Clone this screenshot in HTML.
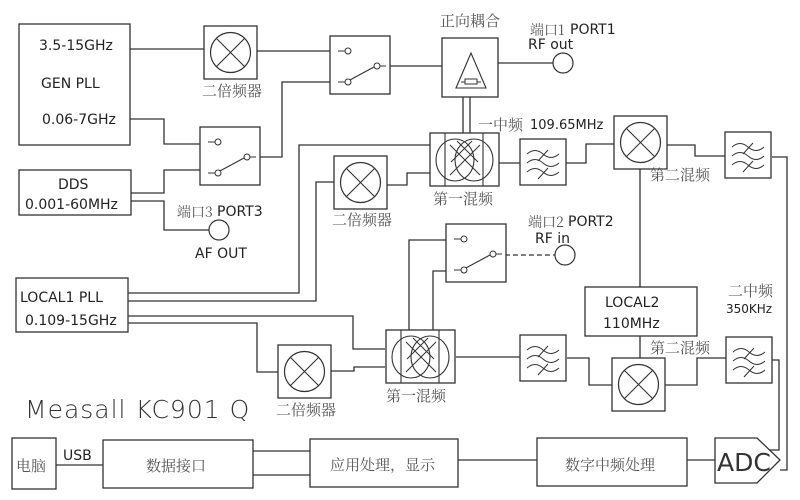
<!DOCTYPE html>
<html><head><meta charset="utf-8"><style>
html,body{margin:0;padding:0;background:#fff;}
svg{display:block;}
text{font-family:"Liberation Sans","Noto Sans CJK SC",sans-serif;fill:#222;}
.c{font-family:"Noto Serif CJK SC","Noto Sans CJK SC",serif;fill:#555;font-size:15px;}
.m{font-family:"DejaVu Sans","Liberation Sans",sans-serif;font-size:14px;fill:#222;}
</style></head><body>
<svg width="800" height="500" viewBox="0 0 800 500" xmlns="http://www.w3.org/2000/svg">
<defs>
<g id="dbl"><rect x="0" y="0" width="53" height="53" fill="#fff" stroke="#333" stroke-width="1.3"/><circle cx="26.5" cy="26.5" r="20" fill="none" stroke="#333" stroke-width="1.2"/><path d="M12.4 12.4L40.6 40.6M40.6 12.4L12.4 40.6" stroke="#333" stroke-width="1.1"/></g>
<g id="sw"><rect x="0" y="0" width="60" height="58" fill="#fff" stroke="#333" stroke-width="1.3"/><path d="M8 15H15M8 46H15M50 30H56M18 45L44 31" stroke="#333" stroke-width="1.1" fill="none"/><circle cx="18" cy="15" r="3" fill="#fff" stroke="#333"/><circle cx="18" cy="46" r="3" fill="#fff" stroke="#333"/><circle cx="47" cy="30" r="3" fill="#fff" stroke="#333"/></g>
<g id="flt"><rect x="0" y="0" width="46" height="46" fill="#fff" stroke="#333" stroke-width="1.3"/><path d="M7 15q8-7 16 0t16 0M7 24q8-7 16 0t16 0M7 33q8-7 16 0t16 0M18 22l10-11M18 40l10-11" stroke="#333" stroke-width="1" fill="none"/></g>
<g id="mix"><rect x="0" y="0" width="69" height="53" fill="#fff" stroke="#333" stroke-width="1.3"/><path d="M15 0V53M53 0V53" stroke="#333" stroke-width="1.1"/><ellipse cx="25" cy="27" rx="19" ry="21" fill="none" stroke="#333" stroke-width="1.1"/><ellipse cx="44" cy="27" rx="19" ry="21" fill="none" stroke="#333" stroke-width="1.1"/><path d="M20 12L50 42M50 12L20 42M27 8L48 29M42 8L21 29" stroke="#333" stroke-width="1" fill="none"/></g>
</defs>
<g stroke="#333" stroke-width="1.3" fill="none">
<path d="M130 49H204M257 51H330M130 119H164V144H200M131 193H164V170H200M131 201H164V230H209M260 157H282V82H330M390 66H442M498 63H553"/>
<path d="M463 97V133M470 97V133"/>
<path d="M128 293H299V145H430M128 301H316V182H334M387 185H407V173H447"/>
<path d="M128 316H353V349H385M128 323H257V372H278M331 371H354V367H385"/>
<path d="M409 330V240H446M433 330V271H446"/>
<path d="M505 255H555" stroke-dasharray="5,3"/>
<path d="M499 163H520M566 163H586V144H614M667 145H695V156H725M772 157H787V470H780"/>
<path d="M640 169V287M640 336V358"/>
<path d="M456 357H520M567 358H589V385H612M665 385H697V358H726M772 360H779V450H768"/>
<path d="M56 465H103M253 451H310M253 475H310M458 460H537M687 460H715"/>
</g>
<rect x="19" y="24" width="111" height="121" fill="#fff" stroke="#333" stroke-width="1.3"/>
<rect x="19" y="170" width="112" height="45" fill="#fff" stroke="#333" stroke-width="1.3"/>
<rect x="16" y="278" width="112" height="54" fill="#fff" stroke="#333" stroke-width="1.3"/>
<rect x="585" y="287" width="112" height="49" fill="#fff" stroke="#333" stroke-width="1.3"/>
<use href="#dbl" x="204" y="26"/>
<use href="#dbl" x="334" y="156"/>
<use href="#dbl" x="278" y="345"/>
<use href="#dbl" x="614" y="116"/>
<use href="#dbl" x="612" y="358"/>
<use href="#sw" x="330" y="36"/>
<use href="#sw" x="200" y="127"/>
<use href="#sw" x="446" y="224"/>
<use href="#flt" x="520" y="139"/>
<use href="#flt" x="725" y="132"/>
<use href="#flt" x="520" y="335"/>
<use href="#flt" x="726" y="337"/>
<use href="#mix" x="430" y="133"/>
<use href="#mix" x="386" y="330"/>
<rect x="442" y="38" width="56" height="59" fill="#fff" stroke="#333" stroke-width="1.3"/>
<path d="M471 53L456 88H486ZM461 82H481" stroke="#333" stroke-width="1.1" fill="none"/>
<rect x="465" y="79" width="12" height="5" fill="#fff" stroke="#333"/>
<circle cx="563" cy="63" r="10" fill="#fff" stroke="#333" stroke-width="1.2"/>
<circle cx="219" cy="230" r="10" fill="#fff" stroke="#333" stroke-width="1.2"/>
<circle cx="565" cy="255" r="10" fill="#fff" stroke="#333" stroke-width="1.2"/>
<rect x="12" y="438" width="44" height="51" fill="#fff" stroke="#333" stroke-width="1.3"/>
<rect x="103" y="440" width="150" height="48" fill="#fff" stroke="#333" stroke-width="1.3"/>
<rect x="310" y="439" width="148" height="48" fill="#fff" stroke="#333" stroke-width="1.3"/>
<rect x="537" y="438" width="150" height="48" fill="#fff" stroke="#333" stroke-width="1.3"/>
<path d="M715 438H757L780 460L757 483H715Z" fill="#fff" stroke="#333" stroke-width="1.3"/>
<text class="m" x="39" y="50">3.5-15GHz</text>
<text class="m" x="41" y="88">GEN  PLL</text>
<text class="m" x="42" y="124">0.06-7GHz</text>
<text class="m" x="58" y="189">DDS</text>
<text class="m" x="25" y="209">0.001-60MHz</text>
<text class="m" x="20" y="302">LOCAL1  PLL</text>
<text class="m" x="25" y="325">0.109-15GHz</text>
<text class="m" x="605" y="307">LOCAL2</text>
<text class="m" x="603" y="328">110MHz</text>
<text class="c" x="202" y="96">二倍频器</text>
<text class="c" x="332" y="225">二倍频器</text>
<text class="c" x="276" y="415">二倍频器</text>
<text class="c" x="440" y="26">正向耦合</text>
<text class="c" x="433" y="204">第一混频</text>
<text class="c" x="386" y="401">第一混频</text>
<text class="c" x="650" y="180">第二混频</text>
<text class="c" x="650" y="353">第二混频</text>
<text class="c" x="478" y="130">一中频</text>
<text class="m" x="530" y="129" style="font-size:13px">109.65MHz</text>
<text class="c" x="728" y="296">二中频</text>
<text class="m" x="726" y="313" style="font-size:12px">350KHz</text>
<text class="c" x="530" y="35" style="font-size:14px">端口1</text><text class="m" x="570" y="34">PORT1</text>
<text class="m" x="528" y="49">RF  out</text>
<text class="c" x="528" y="227" style="font-size:14px">端口2</text><text class="m" x="568" y="226">PORT2</text>
<text class="m" x="535" y="243">RF  in</text>
<text class="c" x="177" y="217" style="font-size:14px">端口3</text><text class="m" x="217" y="216">PORT3</text>
<text class="m" x="195" y="258">AF  OUT</text>
<text x="25" y="418" style="font-size:25px;fill:#333;font-family:'DejaVu Sans',sans-serif;font-weight:200;letter-spacing:1px">Measall  KC901 Q</text>
<text class="c" x="16" y="471">电脑</text>
<text class="m" x="63" y="460">USB</text>
<text class="c" x="146" y="471">数据接口</text>
<text class="c" x="330" y="470">应用处理，显示</text>
<text class="c" x="565" y="470">数字中频处理</text>
<text x="717" y="471" style="font-size:25px;font-family:'DejaVu Sans',sans-serif;fill:#333">ADC</text>
</svg>
</body></html>
